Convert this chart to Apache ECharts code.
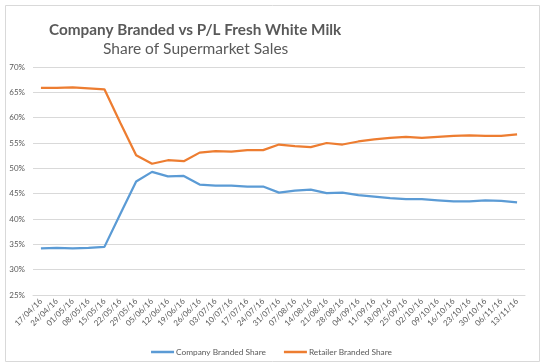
<!DOCTYPE html>
<html>
<head>
<meta charset="utf-8">
<script src="https://cdn.jsdelivr.net/npm/echarts@6/dist/echarts.min.js"></script>
<style>
html,body{margin:0;padding:0;background:#fff;}
#chart{width:543px;height:363px;}
</style>
</head>
<body>
<div id="chart"></div>
<script>
const titleText = 'Company Branded vs P/L Fresh White Milk';
const subtitleText = 'Share of Supermarket Sales';
const categories = ['17/04/16','24/04/16','01/05/16','08/05/16','15/05/16','22/05/16','29/05/16','05/06/16','12/06/16','19/06/16','26/06/16','03/07/16','10/07/16','17/07/16','24/07/16','31/07/16','07/08/16','14/08/16','21/08/16','28/08/16','04/09/16','11/09/16','18/09/16','25/09/16','02/10/16','09/10/16','16/10/16','23/10/16','30/10/16','06/11/16','13/11/16'];
const companyShare = [34.2,34.3,34.2,34.3,34.5,41.0,47.4,49.3,48.4,48.5,46.8,46.6,46.6,46.4,46.4,45.2,45.6,45.8,45.1,45.2,44.7,44.4,44.1,43.9,43.9,43.7,43.5,43.5,43.7,43.6,43.3];
const retailerShare = [65.9,65.9,66.0,65.8,65.6,59.0,52.6,50.9,51.6,51.4,53.1,53.4,53.3,53.6,53.6,54.7,54.4,54.2,55.0,54.7,55.3,55.7,56.0,56.2,56.0,56.2,56.4,56.5,56.4,56.4,56.7];
const yTicks = {min: 25, max: 70, interval: 5};

const chart = echarts.init(document.getElementById('chart'), null, {renderer: 'canvas'});
const font = 'Lato';
chart.setOption({
  animation: false,
  backgroundColor: '#ffffff',
  graphic: [{
    type: 'rect', left: 3, top: 3,
    shape: {width: 534, height: 356},
    style: {fill: 'none', stroke: '#d9d9d9', lineWidth: 1}
  }],
  title: [
    {text: titleText, left: 44, top: 18, textStyle: {fontFamily: font, fontSize: 15.3, fontWeight: 'bold', color: '#595959'}},
    {text: subtitleText, left: 98, top: 36, textStyle: {fontFamily: font, fontSize: 15.5, fontWeight: 'normal', color: '#595959'}}
  ],
  grid: {left: 33, right: 18, top: 67, bottom: 68, containLabel: false},
  legend: {
    top: 343, left: 'center',
    icon: 'rect', itemWidth: 23, itemHeight: 2.5, itemGap: 18,
    textStyle: {fontFamily: font, fontSize: 8.3, color: '#595959', padding: [0, 0, 0, -3]},
    data: ['Company Branded Share', 'Retailer Branded Share']
  },
  xAxis: {
    type: 'category', data: categories, boundaryGap: true,
    axisLine: {show: true, lineStyle: {color: '#d9d9d9'}},
    axisTick: {show: false},
    axisLabel: {interval: 0, rotate: 45, fontFamily: font, fontSize: 8, color: '#595959', margin: 5}
  },
  yAxis: {
    type: 'value', min: yTicks.min, max: yTicks.max, interval: yTicks.interval,
    axisLine: {show: false}, axisTick: {show: false},
    axisLabel: {formatter: '{value}%', fontFamily: font, fontSize: 8, color: '#595959', margin: 8},
    splitLine: {lineStyle: {color: '#d9d9d9', width: 1}}
  },
  series: [
    {name: 'Company Branded Share', type: 'line', data: companyShare, symbol: 'none', lineStyle: {color: '#5B9BD5', width: 2.25}, itemStyle: {color: '#5B9BD5'}},
    {name: 'Retailer Branded Share', type: 'line', data: retailerShare, symbol: 'none', lineStyle: {color: '#ED7D31', width: 2.25}, itemStyle: {color: '#ED7D31'}}
  ]
});
</script>
</body>
</html>
